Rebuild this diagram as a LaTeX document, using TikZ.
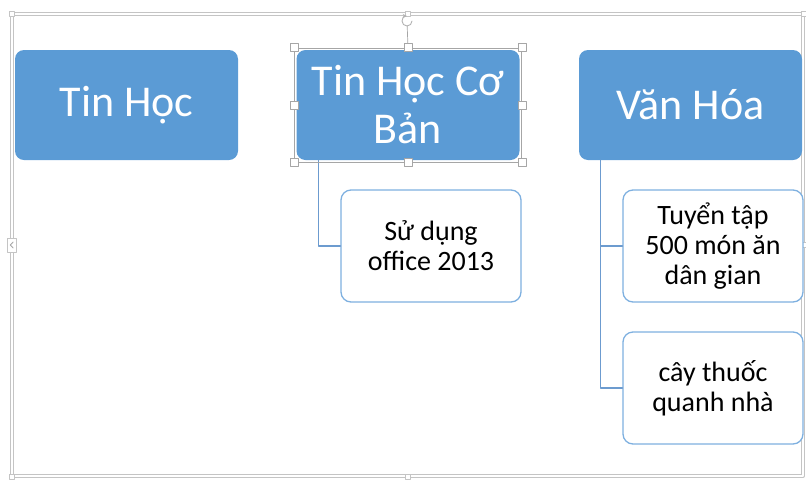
\documentclass[tikz,border=0pt]{standalone}
\usepackage{fontspec}
\setmainfont{Carlito}
\definecolor{boxblue}{HTML}{5B9BD5}
\definecolor{edgeblue}{HTML}{7EB0E0}
\definecolor{lineblue}{HTML}{6C9BCF}
\definecolor{framegray}{HTML}{C4C4C4}
\begin{document}
\begin{tikzpicture}[x=1pt, y=-1pt, line join=round, line cap=round, >=stealth,
	topbox/.style={fill=boxblue, rounded corners=9pt, minimum width=223pt, minimum height=110pt, text=white, align=center, inner sep=0pt, font=\fontsize{44}{48}\selectfont},
	subbox/.style={draw=edgeblue, line width=1.3pt, fill=white, rounded corners=10pt, minimum width=180pt, minimum height=112pt, align=center, inner sep=0pt, font=\fontsize{28}{30}\selectfont},
	link/.style={draw=lineblue, line width=1.3pt},
	handle/.style={draw=gray!70, fill=white, minimum size=8pt, inner sep=0pt, line width=0.7pt},
	framehandle/.style={draw=framegray, fill=white, minimum size=5pt, inner sep=0pt, line width=0.7pt}]
	\useasboundingbox (0,0) rectangle (806,480);
	% khung ngoai
	\node[draw=framegray, double, double distance=2.5pt, line width=0.7pt, minimum width=791pt, minimum height=462pt, inner sep=0pt] (canvas) at (407.5,245) {};
	\foreach \a in {north west, north, north east, east, south west, south}
	\node[framehandle] at (canvas.\a) {};
	\node[framehandle, minimum width=9pt, minimum height=14pt] (tab) at (canvas.west) {};
	\draw[gray!70, line width=0.9pt] ([shift={(1.5,-3)}]tab.center) -- ([shift={(-1.5,0)}]tab.center) -- ([shift={(1.5,3)}]tab.center);
	% cac hop
	\node[topbox] (TH) at (126.5,105) {Tin Học};
	\node[topbox] (THCB) at (408,105) {Tin Học Cơ\\Bản};
	\node[topbox] (VH) at (690.5,105) {Văn Hóa};
	\node[subbox] (SD) at (431,246) {Sử dụng\\office 2013};
	\node[subbox] (TT) at (713,246) {Tuyển tập\\500 món ăn\\dân gian};
	\node[subbox] (CT) at (713,388) {cây thuốc\\quanh nhà};
	\draw[link] ([xshift=22pt]THCB.south west) |- (SD.west);
	\draw[link] ([xshift=22pt]VH.south west) |- (TT.west);
	\draw[link] ([xshift=22pt]VH.south west) |- (CT.west);
	% vung chon
	\node[draw=gray!70, line width=0.7pt, minimum width=227pt, minimum height=114pt, inner sep=0pt] (sel) at (THCB) {};
	\coordinate (rot) at (407,21);
	\draw[gray!70, line width=0.7pt, shorten >=5pt] (sel.north) -- (rot);
	\draw[gray!60, line width=0.9pt, ->] ([shift={(5,0)}]rot) arc[start angle=0, end angle=-270, radius=5pt];
	\foreach \a in {north west, north, north east, east, south east, south, south west, west}
	\node[handle] at (sel.\a) {};
\end{tikzpicture}
\end{document}
